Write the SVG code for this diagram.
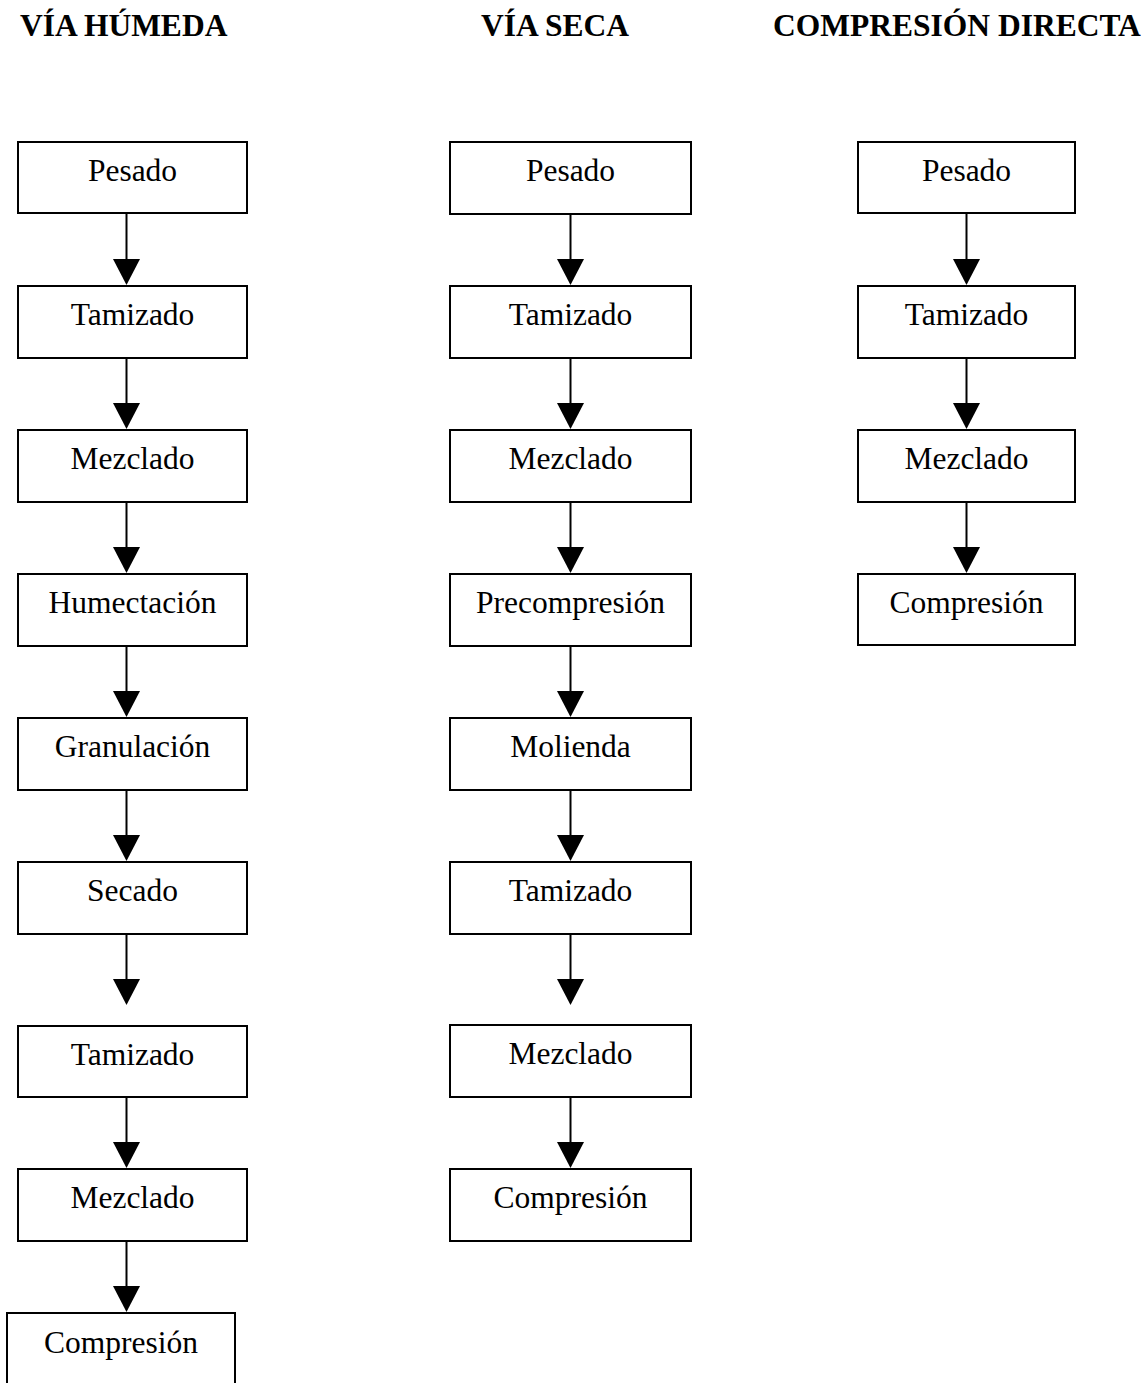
<svg xmlns="http://www.w3.org/2000/svg" width="1148" height="1383" viewBox="0 0 1148 1383">
<style>
.bg{fill:#ffffff}
.box{fill:#ffffff;stroke:#000000;stroke-width:2}
.lbl{font-family:"Liberation Serif","Times New Roman",serif;font-size:31.5px;fill:#000000;text-anchor:middle}
.hdr{font-family:"Liberation Serif","Times New Roman",serif;font-size:31.5px;font-weight:bold;fill:#000000}
.ln{stroke:#000000;stroke-width:2;fill:none}
.ah{fill:#000000}
</style>
<defs>
<path id="tri" d="M-13.5,-26 L13.5,-26 L0,0 Z"/>
</defs>
<rect class="bg" x="0" y="0" width="1148" height="1383"/>
<g id="headers">
<text class="hdr" x="20" y="36">VÍA HÚMEDA</text>
<text class="hdr" x="481" y="36">VÍA SECA</text>
<text class="hdr" x="773" y="36">COMPRESIÓN DIRECTA</text>
</g>
<g id="connectors">
<!-- left column -->
<line class="ln" x1="126.5" y1="213" x2="126.5" y2="262"/><use href="#tri" class="ah" x="126.5" y="285"/>
<line class="ln" x1="126.5" y1="358" x2="126.5" y2="406"/><use href="#tri" class="ah" x="126.5" y="429"/>
<line class="ln" x1="126.5" y1="502" x2="126.5" y2="550"/><use href="#tri" class="ah" x="126.5" y="573"/>
<line class="ln" x1="126.5" y1="646" x2="126.5" y2="694"/><use href="#tri" class="ah" x="126.5" y="717"/>
<line class="ln" x1="126.5" y1="790" x2="126.5" y2="838"/><use href="#tri" class="ah" x="126.5" y="861"/>
<line class="ln" x1="126.5" y1="934" x2="126.5" y2="982"/><use href="#tri" class="ah" x="126.5" y="1005"/>
<line class="ln" x1="126.5" y1="1097" x2="126.5" y2="1145"/><use href="#tri" class="ah" x="126.5" y="1168"/>
<line class="ln" x1="126.5" y1="1241" x2="126.5" y2="1289"/><use href="#tri" class="ah" x="126.5" y="1312"/>
<!-- middle column -->
<line class="ln" x1="570.5" y1="214" x2="570.5" y2="262"/><use href="#tri" class="ah" x="570.5" y="285"/>
<line class="ln" x1="570.5" y1="358" x2="570.5" y2="406"/><use href="#tri" class="ah" x="570.5" y="429"/>
<line class="ln" x1="570.5" y1="502" x2="570.5" y2="550"/><use href="#tri" class="ah" x="570.5" y="573"/>
<line class="ln" x1="570.5" y1="646" x2="570.5" y2="694"/><use href="#tri" class="ah" x="570.5" y="717"/>
<line class="ln" x1="570.5" y1="790" x2="570.5" y2="838"/><use href="#tri" class="ah" x="570.5" y="861"/>
<line class="ln" x1="570.5" y1="934" x2="570.5" y2="982"/><use href="#tri" class="ah" x="570.5" y="1005"/>
<line class="ln" x1="570.5" y1="1097" x2="570.5" y2="1145"/><use href="#tri" class="ah" x="570.5" y="1168"/>
<!-- right column -->
<line class="ln" x1="966.5" y1="213" x2="966.5" y2="262"/><use href="#tri" class="ah" x="966.5" y="285"/>
<line class="ln" x1="966.5" y1="358" x2="966.5" y2="406"/><use href="#tri" class="ah" x="966.5" y="429"/>
<line class="ln" x1="966.5" y1="502" x2="966.5" y2="550"/><use href="#tri" class="ah" x="966.5" y="573"/>
</g>
<!-- left column nodes -->
<g id="h1"><rect class="box" x="18" y="142" width="229" height="71"/><text class="lbl" x="132.5" y="181">Pesado</text></g>
<g id="h2"><rect class="box" x="18" y="286" width="229" height="72"/><text class="lbl" x="132.5" y="325">Tamizado</text></g>
<g id="h3"><rect class="box" x="18" y="430" width="229" height="72"/><text class="lbl" x="132.5" y="469">Mezclado</text></g>
<g id="h4"><rect class="box" x="18" y="574" width="229" height="72"/><text class="lbl" x="132.5" y="613">Humectación</text></g>
<g id="h5"><rect class="box" x="18" y="718" width="229" height="72"/><text class="lbl" x="132.5" y="757">Granulación</text></g>
<g id="h6"><rect class="box" x="18" y="862" width="229" height="72"/><text class="lbl" x="132.5" y="901">Secado</text></g>
<g id="h7"><rect class="box" x="18" y="1026" width="229" height="71"/><text class="lbl" x="132.5" y="1065">Tamizado</text></g>
<g id="h8"><rect class="box" x="18" y="1169" width="229" height="72"/><text class="lbl" x="132.5" y="1208">Mezclado</text></g>
<g id="h9"><rect class="box" x="7" y="1313" width="228" height="90"/><text class="lbl" x="121" y="1353">Compresión</text></g>
<!-- middle column nodes -->
<g id="s1"><rect class="box" x="450" y="142" width="241" height="72"/><text class="lbl" x="570.5" y="181">Pesado</text></g>
<g id="s2"><rect class="box" x="450" y="286" width="241" height="72"/><text class="lbl" x="570.5" y="325">Tamizado</text></g>
<g id="s3"><rect class="box" x="450" y="430" width="241" height="72"/><text class="lbl" x="570.5" y="469">Mezclado</text></g>
<g id="s4"><rect class="box" x="450" y="574" width="241" height="72"/><text class="lbl" x="570.5" y="613">Precompresión</text></g>
<g id="s5"><rect class="box" x="450" y="718" width="241" height="72"/><text class="lbl" x="570.5" y="757">Molienda</text></g>
<g id="s6"><rect class="box" x="450" y="862" width="241" height="72"/><text class="lbl" x="570.5" y="901">Tamizado</text></g>
<g id="s7"><rect class="box" x="450" y="1025" width="241" height="72"/><text class="lbl" x="570.5" y="1064">Mezclado</text></g>
<g id="s8"><rect class="box" x="450" y="1169" width="241" height="72"/><text class="lbl" x="570.5" y="1208">Compresión</text></g>
<!-- right column nodes -->
<g id="d1"><rect class="box" x="858" y="142" width="217" height="71"/><text class="lbl" x="966.5" y="181">Pesado</text></g>
<g id="d2"><rect class="box" x="858" y="286" width="217" height="72"/><text class="lbl" x="966.5" y="325">Tamizado</text></g>
<g id="d3"><rect class="box" x="858" y="430" width="217" height="72"/><text class="lbl" x="966.5" y="469">Mezclado</text></g>
<g id="d4"><rect class="box" x="858" y="574" width="217" height="71"/><text class="lbl" x="966.5" y="613">Compresión</text></g>
</svg>
